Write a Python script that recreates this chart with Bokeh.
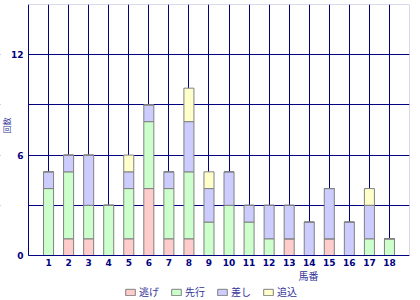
import math
from bokeh.plotting import figure
from bokeh.models import Range1d, FixedTicker, Legend, LegendItem, Label, BoxAnnotation, ColumnDataSource
from bokeh.embed import file_html
from bokeh.resources import INLINE

horses = list(range(1, 19))
nige =    [0, 1, 1, 0, 1, 4, 1, 1, 0, 0, 0, 0, 1, 0, 1, 0, 0, 0]
senko =   [4, 4, 2, 3, 3, 4, 3, 4, 2, 3, 2, 1, 0, 0, 0, 0, 1, 1]
sashi =   [1, 1, 3, 0, 1, 1, 1, 3, 2, 2, 1, 2, 2, 2, 3, 2, 2, 0]
oikomi =  [0, 0, 0, 0, 1, 0, 0, 2, 1, 0, 0, 0, 0, 0, 0, 0, 1, 0]
series = ["逃げ", "先行", "差し", "追込"]
colors = ["#FFCCCC", "#CCFFCC", "#CCCCFF", "#FFFFCC"]
y_ticks = [0, 6, 12]
grid_ticks = [3, 6, 9, 12]
y_max = 15
x_max = 19

NAVY = "#000080"
TXT = "#333399"
JP = "Noto Sans CJK JP"

# plot area spans 28..409 px horizontally and 4..255 px vertically;
# the frame is widened to the whole canvas so texts around it are not clipped
y_min = -y_max * 45 / 251
x_min = -x_max * 28 / 381

src = ColumnDataSource(dict(x=horses, a=nige, b=senko, c=sashi, d=oikomi))

p = figure(width=420, height=300, output_backend="svg", toolbar_location=None,
           x_range=Range1d(x_min, x_max), y_range=Range1d(y_min, y_max),
           min_border_left=0, min_border_right=11, min_border_top=4, min_border_bottom=0)
p.background_fill_color = "white"
p.border_fill_color = "white"
p.outline_line_color = None

p.xgrid.ticker = FixedTicker(ticks=horses)
p.ygrid.ticker = FixedTicker(ticks=grid_ticks)
for g in (p.xgrid, p.ygrid):
    g.grid_line_color = NAVY
    g.grid_line_width = 1
    g.grid_line_alpha = 1
    g.level = "underlay"

# white masks outside the plot area so grid lines stop at the axes
p.add_layout(BoxAnnotation(top=0, fill_color="white", fill_alpha=1, line_color=None, level="underlay"))
p.add_layout(BoxAnnotation(right=0, fill_color="white", fill_alpha=1, line_color=None, level="underlay"))
# plot-area border
p.add_layout(BoxAnnotation(left=0, right=x_max, bottom=0, top=y_max, fill_alpha=0,
                           line_color=NAVY, line_width=1, level="underlay"))

renderers = p.vbar_stack(["a", "b", "c", "d"], x="x", width=0.5, source=src,
                         fill_color=colors, line_color="#808080", line_width=1)

p.xaxis.ticker = FixedTicker(ticks=horses)
p.xaxis.fixed_location = 0
p.xaxis.bounds = (0, x_max)
p.yaxis.ticker = FixedTicker(ticks=y_ticks)
p.yaxis.fixed_location = 0
p.yaxis.bounds = (0, y_max)

for ax in (p.xaxis, p.yaxis):
    ax.axis_line_color = NAVY
    ax.axis_line_width = 1
    ax.major_tick_line_color = None
    ax.minor_tick_line_color = None
    ax.major_tick_out = 0
    ax.major_tick_in = 0
    ax.minor_tick_out = 0
    ax.minor_tick_in = 0
    ax.major_label_text_color = NAVY
    ax.major_label_text_font = "DejaVu Sans"
    ax.major_label_text_font_size = "9px"
    ax.major_label_text_font_style = "bold"

p.xaxis.major_label_standoff = 3
p.yaxis.major_label_standoff = 5

p.add_layout(Label(x=6, y=175, x_units="screen", y_units="screen", text="回数", angle=math.pi / 2,
                   text_font=JP, text_font_size="8px", text_color=TXT,
                   text_align="center", text_baseline="middle"))
p.add_layout(Label(x=308, y=25, x_units="screen", y_units="screen", text="馬番",
                   text_font=JP, text_font_size="10px", text_color=TXT,
                   text_align="center", text_baseline="middle"))

legend = Legend(items=[LegendItem(label=s, renderers=[r]) for s, r in zip(series, renderers)],
                location=(124, 1), orientation="horizontal",
                glyph_width=12, glyph_height=8, label_standoff=3, spacing=11,
                padding=0, margin=0, border_line_color=None, background_fill_alpha=0,
                label_text_font=JP, label_text_font_size="10px", label_text_color=TXT,
                label_height=12)
p.add_layout(legend)

open("out.html", "w").write(file_html(p, INLINE))
